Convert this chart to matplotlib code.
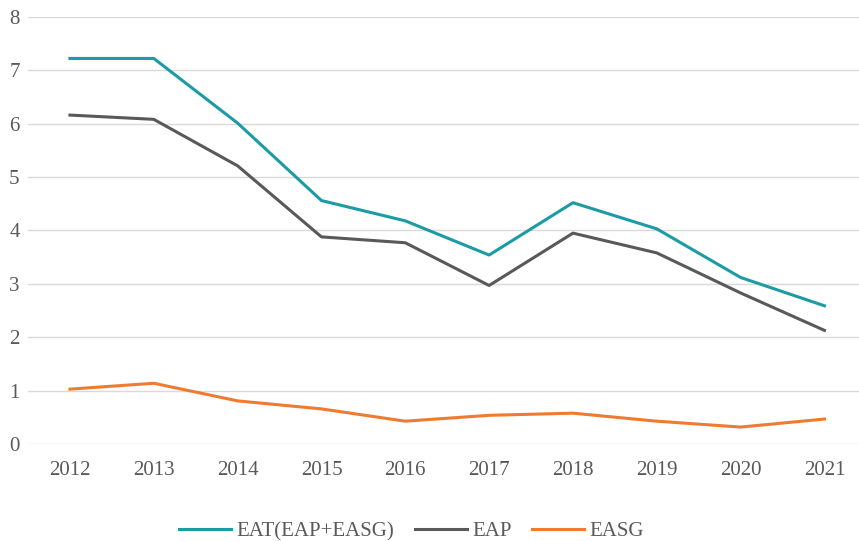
import matplotlib
matplotlib.use('Agg')
import matplotlib.pyplot as plt

years = ['2012', '2013', '2014', '2015', '2016', '2017', '2018', '2019', '2020', '2021']
eat = [7.22, 7.22, 6.01, 4.56, 4.18, 3.54, 4.52, 4.03, 3.12, 2.59]
eap = [6.16, 6.08, 5.21, 3.88, 3.77, 2.97, 3.95, 3.58, 2.83, 2.13]
easg = [1.03, 1.14, 0.81, 0.66, 0.43, 0.54, 0.58, 0.43, 0.32, 0.47]

plt.rcParams['font.family'] = ['Liberation Serif', 'DejaVu Serif']

fig = plt.figure(figsize=(8.59, 5.41), dpi=100)
ax = fig.add_axes([0.0326, 0.179, 0.976, 0.79])

x = range(len(years))
ax.plot(x, eat, color='#1a9ba6', lw=2.2, label='EAT(EAP+EASG)')
ax.plot(x, eap, color='#595959', lw=2.2, label='EAP')
ax.plot(x, easg, color='#ef7a30', lw=2.2, label='EASG')

ax.set_xlim(-0.5, 9.5)
ax.set_ylim(0, 8)
ax.set_xticks(list(x))
ax.set_xticklabels(years)
ax.set_yticks(range(0, 9))
ax.grid(axis='y', color='#d9d9d9', lw=1)
ax.set_axisbelow(True)
for s in ax.spines.values():
    s.set_visible(False)
ax.tick_params(length=0, labelsize=15, labelcolor='#595959')
ax.tick_params(axis='x', pad=12)
ax.tick_params(axis='y', pad=6)

fig.legend(loc='lower center', bbox_to_anchor=(0.479, -0.035), ncol=3, frameon=False,
           fontsize=15, labelcolor='#595959', handlelength=2.5, handletextpad=0.25,
           columnspacing=1.0)

fig.savefig('out.png', dpi=100)
